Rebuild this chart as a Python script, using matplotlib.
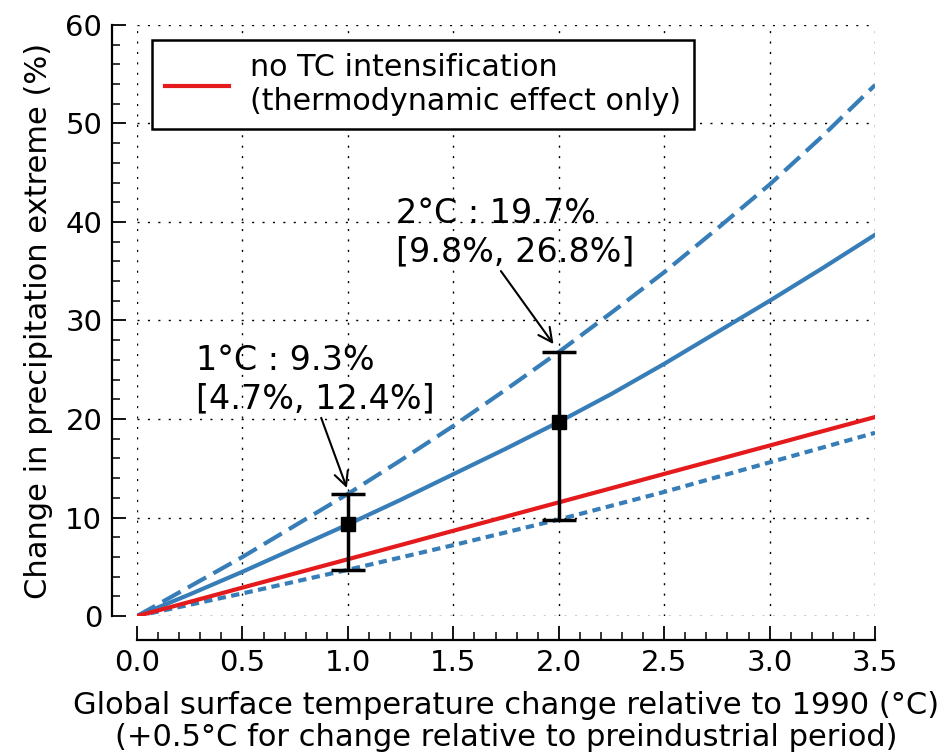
import numpy as np
import matplotlib.pyplot as plt
from matplotlib.ticker import MultipleLocator

# data
temp = [0.0, 0.25, 0.5, 0.75, 1.0, 1.25, 1.5, 1.75, 2.0, 2.25, 2.5, 2.75, 3.0, 3.25, 3.5]
central = [0.0, 2.2, 4.5, 6.9, 9.3, 11.8, 14.4, 17.0, 19.7, 22.55, 25.6, 28.8, 32.0, 35.3, 38.7]
upper = [0.0, 3.0, 6.0, 9.2, 12.4, 15.8, 19.3, 23.0, 26.8, 30.8, 34.9, 39.3, 43.8, 48.7, 53.9]
lower = [0.0, 1.15, 2.3, 3.5, 4.7, 5.95, 7.2, 8.5, 9.8, 11.2, 12.6, 14.1, 15.6, 17.1, 18.6]
thermo = [0.0, 1.44, 2.89, 4.33, 5.77, 7.21, 8.66, 10.1, 11.54, 12.98, 14.43, 15.87, 17.31, 18.76, 20.2]

pts_x = [1.0, 2.0]
pts_y = [9.3, 19.7]
pts_lo = [4.7, 9.8]
pts_hi = [12.4, 26.8]

blue = '#377eb8'
red = '#e41a1c'

plt.rcParams['font.family'] = ['DejaVu Sans']

fig = plt.figure(figsize=(9.45, 7.55), dpi=100)
ax = fig.add_axes([0.145, 0.184, 0.781, 0.783])

ax.plot(temp, upper, color=blue, lw=3, ls=(0, (5, 2)))
ax.plot(temp, central, color=blue, lw=3)
ax.plot(temp, lower, color=blue, lw=3, ls=(0, (2, 1.3)))
ax.plot(temp, thermo, color=red, lw=3,
        label='no TC intensification\n(thermodynamic effect only)')

yerr = [np.array(pts_y) - np.array(pts_lo), np.array(pts_hi) - np.array(pts_y)]
ax.errorbar(pts_x, pts_y, yerr=yerr, fmt='s', color='black', ms=10,
            elinewidth=2.5, capsize=12, capthick=2.5, zorder=5)

# annotations
ax.annotate('1°C : 9.3%\n[4.7%, 12.4%]', xy=(0.995, 13.0), xytext=(0.28, 20.4),
            fontsize=24, ha='left', va='bottom',
            arrowprops=dict(arrowstyle='->', color='black', lw=1.5,
                            shrinkA=0, shrinkB=0, mutation_scale=25,
                            relpos=(0.52, 0.0)))
ax.annotate('2°C : 19.7%\n[9.8%, 26.8%]', xy=(1.975, 27.6), xytext=(1.23, 35.3),
            fontsize=24, ha='left', va='bottom',
            arrowprops=dict(arrowstyle='->', color='black', lw=1.5,
                            shrinkA=0, shrinkB=0, mutation_scale=25,
                            relpos=(0.43, 0.0)))

ax.set_xlim(0, 3.5)
ax.set_ylim(0, 60)
ax.xaxis.set_major_locator(MultipleLocator(0.5))
ax.xaxis.set_minor_locator(MultipleLocator(0.1))
ax.yaxis.set_major_locator(MultipleLocator(10))
ax.yaxis.set_minor_locator(MultipleLocator(2))
ax.xaxis.set_major_formatter(plt.FormatStrFormatter('%.1f'))

ax.spines['top'].set_visible(False)
ax.spines['right'].set_visible(False)
ax.spines['left'].set_position(('outward', 18))
ax.spines['bottom'].set_position(('outward', 17))
for s in ['left', 'bottom']:
    ax.spines[s].set_linewidth(1.6)

ax.tick_params(which='major', direction='in', length=10, width=1.3,
               labelsize=21, pad=7)
ax.tick_params(which='minor', direction='in', length=6, width=1.1)

ax.grid(True, which='major', color='black', lw=1.0, ls=(0, (1.5, 6)))

ax.set_xlabel('Global surface temperature change relative to 1990 (°C)\n'
              '(+0.5°C for change relative to preindustrial period)',
              fontsize=22, labelpad=10, linespacing=1.1)
ax.set_ylabel('Change in precipitation extreme (%)', fontsize=22, labelpad=9)

leg = ax.legend(loc='upper left', bbox_to_anchor=(0.02, 0.975), fontsize=21.7,
                handlelength=2.1, handletextpad=0.7, borderpad=0.45,
                borderaxespad=0, fancybox=False, framealpha=1,
                edgecolor='black')
leg.get_frame().set_linewidth(1.8)

fig.savefig('out.png', dpi=100)
